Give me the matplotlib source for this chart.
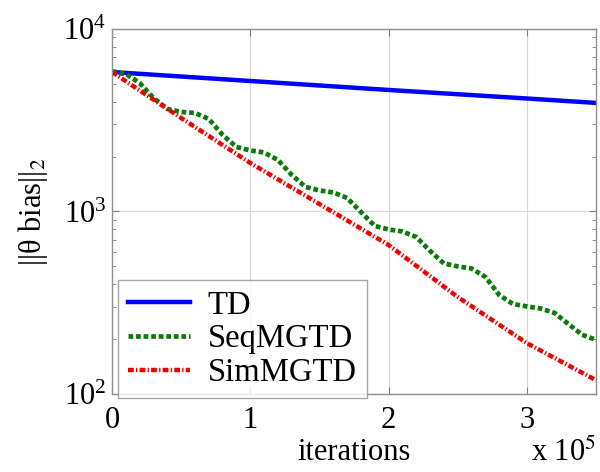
import numpy as np
import matplotlib
matplotlib.use("Agg")
import matplotlib.pyplot as plt
from matplotlib.ticker import FixedLocator, FuncFormatter

plt.rcParams['font.family'] = ['Liberation Serif', 'DejaVu Serif']
plt.rcParams['mathtext.fontset'] = 'stix'

# iterations (x 1e5)
td_x = [0.0, 1.0, 2.0, 3.0, 3.5]
td_y = [5810, 5188, 4633, 4160, 3935]

sim_x = [0.0, 0.5, 1.0, 1.5, 2.0, 2.5, 3.0, 3.5]
sim_y = [5810, 3252, 1844, 1099, 655, 340, 190, 119]

seq_x = [0.0, 0.1, 0.2, 0.3, 0.4, 0.5, 0.6, 0.7, 0.8, 0.9,
         1.0, 1.1, 1.2, 1.3, 1.4, 1.5, 1.6, 1.7, 1.8, 1.9,
         2.0, 2.1, 2.2, 2.3, 2.4, 2.5, 2.6, 2.7, 2.8, 2.9,
         3.0, 3.1, 3.2, 3.3, 3.4, 3.5]
seq_y = [5810, 5668, 5060, 4187, 3644, 3510, 3465, 3212, 2626, 2256,
         2159, 2105, 1915, 1585, 1362, 1304, 1271, 1186, 994, 833,
         797, 777, 725, 608, 519, 500, 487, 438, 349, 311,
         302, 294, 278, 242, 211, 198]

xticks = [0, 1, 2, 3]
scale = 1e5

fig = plt.figure(figsize=(6, 4.72), dpi=100)
ax = fig.add_axes([0.1867, 0.1653, 0.8066, 0.7733])

ax.plot(np.array(td_x) * scale, td_y, color='#0000ff', lw=3.2, label='TD')
ax.plot(np.array(seq_x) * scale, seq_y, color='#0a7a0a', lw=3.4,
        linestyle=(0, (1.0, 0.6)), label='SeqMGTD')
ax.plot(np.array(sim_x) * scale, sim_y, color='#ee0000', lw=3.2,
        linestyle=(0, (1.3, 0.5, 0.3, 0.5)), label='SimMGTD')

ax.set_yscale('log')
ax.set_ylim(1e2, 1e4)
ax.set_xlim(0, 3.5 * scale)
ax.xaxis.set_major_locator(FixedLocator([t * scale for t in xticks]))
ax.xaxis.set_major_formatter(FuncFormatter(lambda v, p: f"{v / scale:g}"))

ax.grid(True, which='major', color='#d8d8d8', lw=0.8)
ax.tick_params(which='both', direction='in', top=True, right=True,
               colors='#808080', labelcolor='black', labelsize=22)
ax.tick_params(which='major', length=5)
ax.tick_params(axis='x', which='major', pad=9)
ax.tick_params(axis='y', which='major', pad=4)
ax.tick_params(which='minor', length=3)
for s in ax.spines.values():
    s.set_color('#909090')
    s.set_linewidth(1.0)

ax.set_xlabel('iterations', fontsize=22, labelpad=2)
ax.set_ylabel(r'||θ bias||$_2$', fontsize=22, labelpad=10)
fig.text(0.993, 0.008, r'x 10$^5$', fontsize=22, ha='right', va='bottom')

leg = ax.legend(loc='lower left', bbox_to_anchor=(0.0124, -0.011), fontsize=23.5,
                frameon=True, fancybox=False, borderaxespad=0.0,
                handlelength=1.9, labelspacing=0.1, borderpad=0.3,
                handletextpad=0.55)
leg.get_frame().set_edgecolor('#909090')
leg.get_frame().set_linewidth(1.0)

fig.savefig('out.png', dpi=100)
